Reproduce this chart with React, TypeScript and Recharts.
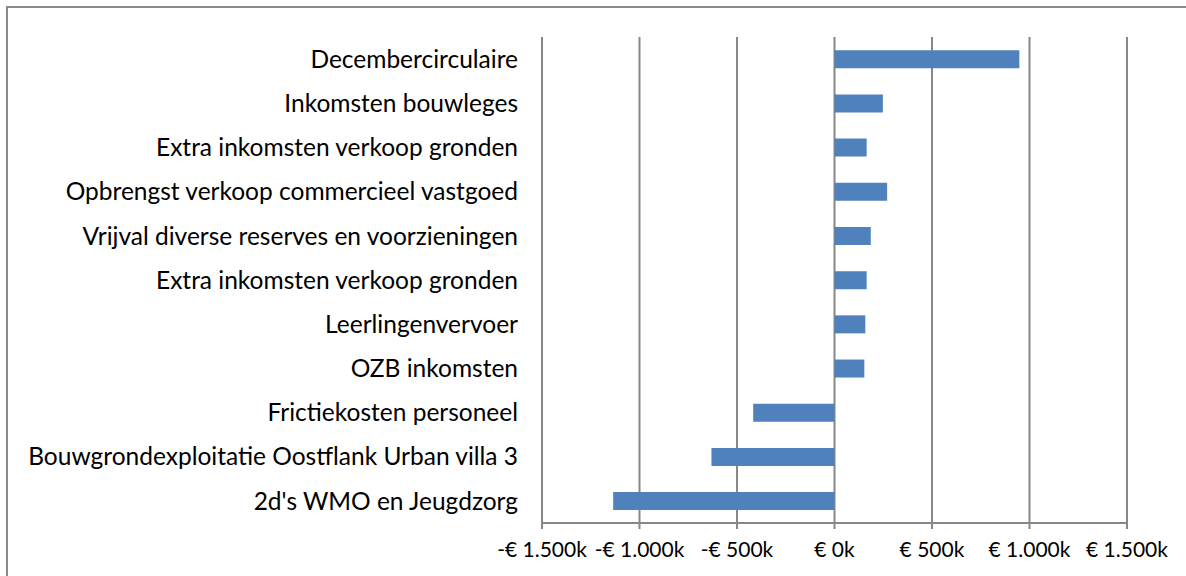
import { BarChart, Bar, XAxis, YAxis, CartesianGrid } from "recharts";

// bedragen in duizenden euro's
const categories = [
  "Decembercirculaire",
  "Inkomsten bouwleges",
  "Extra inkomsten verkoop gronden",
  "Opbrengst verkoop commercieel vastgoed",
  "Vrijval diverse reserves en voorzieningen",
  "Extra inkomsten verkoop gronden",
  "Leerlingenvervoer",
  "OZB inkomsten",
  "Frictiekosten personeel",
  "Bouwgrondexploitatie Oostflank Urban villa 3",
  "2d's WMO en Jeugdzorg",
];
const amounts = [948, 248, 165, 270, 186, 165, 158, 153, -417, -631, -1135];
const xTicks = [-1500, -1000, -500, 0, 500, 1000, 1500];

const data = categories.map((name, i) => ({ id: i, name, value: amounts[i] }));

const fmt = (v: number) => {
  const abs = Math.abs(v).toLocaleString("de-DE");
  return (v < 0 ? "-€ " : "€ ") + abs + "k";
};

const font = "Lato, 'Open Sans', sans-serif";

export default function App() {
  return (
    <div
      style={{
        position: "fixed",
        left: 0,
        top: 0,
        width: 1186,
        height: 576,
        overflow: "hidden",
        background: "#fff",
      }}
    >
      <div
        style={{
          position: "absolute",
          left: 6,
          top: 6,
          width: 1220,
          height: 620,
          border: "2px solid #8a8a8a",
        }}
      />
      <div style={{ position: "absolute", left: 0, top: 0 }}>
        <BarChart
          width={1186}
          height={576}
          data={data}
          layout="vertical"
          margin={{ top: 37, right: 59, left: 0, bottom: 0 }}
          barCategoryGap="30%"
        >
          <CartesianGrid horizontal={false} stroke="#878787" strokeWidth={2} />
          <XAxis
            type="number"
            dataKey="value"
            domain={[-1500, 1500]}
            ticks={xTicks}
            tickFormatter={fmt}
            height={53}
            interval={0}
            stroke="#878787"
            strokeWidth={2}
            tickSize={6}
            tickMargin={13}
            tick={{ fill: "#000", fontSize: 21, fontFamily: font }}
          />
          <YAxis
            type="category"
            dataKey="id"
            tickFormatter={(i: number) => categories[i]}
            width={542}
            axisLine={false}
            tickLine={false}
            tickMargin={25}
            interval={0}
            tick={{ fill: "#000", fontSize: 24.5, fontFamily: font, dx: 7 }}
          />
          <Bar dataKey="value" fill="#4f81bd" isAnimationActive={false} />
        </BarChart>
      </div>
    </div>
  );
}
